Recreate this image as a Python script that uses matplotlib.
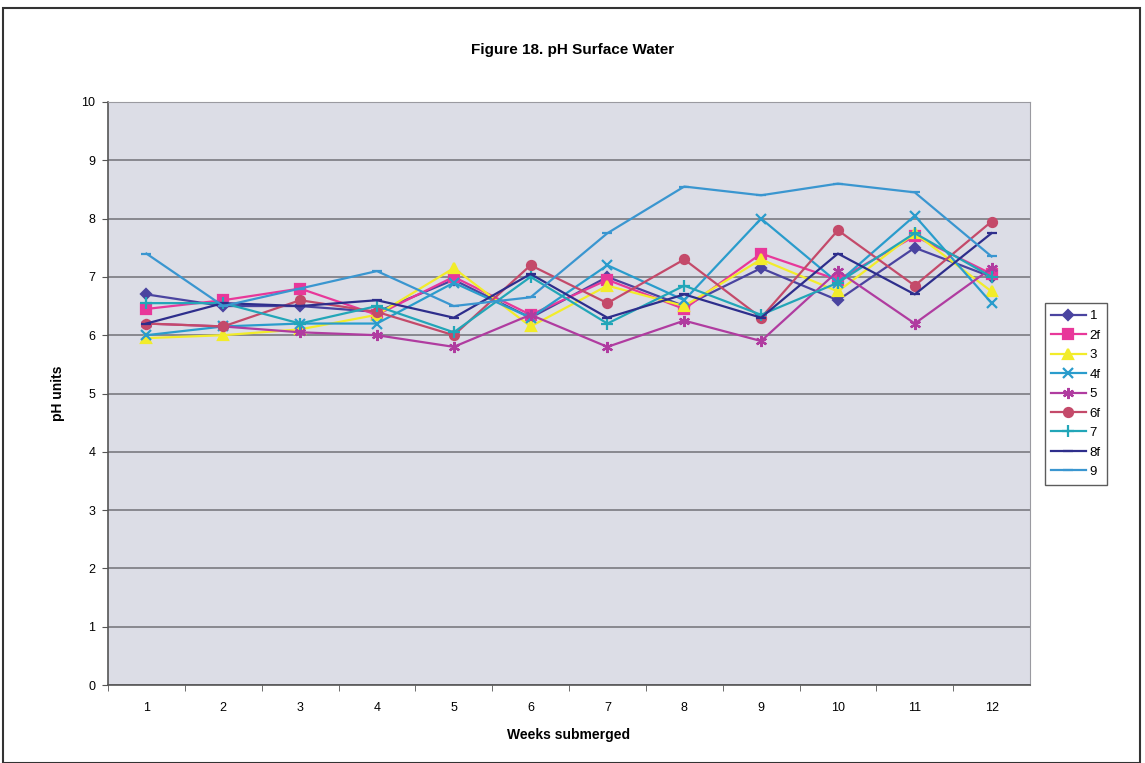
#!/usr/bin/env python3
"""Figure 18 - pH da água superficial por semana submersa."""

import matplotlib
matplotlib.use('Agg')
import matplotlib.pyplot as plt
from matplotlib.patches import Rectangle

# Dados
weeks = [1, 2, 3, 4, 5, 6, 7, 8, 9, 10, 11, 12]
series_names = ['1', '2f', '3', '4f', '5', '6f', '7', '8f', '9']

ph_1 = [6.7, 6.5, 6.5, 6.4, 6.95, 6.3, 7.0, 6.5, 7.15, 6.6, 7.5, 7.0]
ph_2f = [6.45, 6.6, 6.8, 6.35, 7.0, 6.35, 6.95, 6.45, 7.4, 6.95, 7.7, 7.05]
ph_3 = [5.95, 6.0, 6.1, 6.35, 7.15, 6.15, 6.85, 6.5, 7.3, 6.75, 7.75, 6.75]
ph_4f = [6.0, 6.15, 6.2, 6.2, 6.9, 6.3, 7.2, 6.6, 8.0, 6.9, 8.05, 6.55]
ph_5 = [6.2, 6.15, 6.05, 6.0, 5.8, 6.35, 5.8, 6.25, 5.9, 7.1, 6.2, 7.15]
ph_6f = [6.2, 6.15, 6.6, 6.4, 6.0, 7.2, 6.55, 7.3, 6.3, 7.8, 6.85, 7.95]
ph_7 = [6.55, 6.55, 6.2, 6.5, 6.05, 7.0, 6.2, 6.85, 6.35, 6.9, 7.75, 7.0]
ph_8f = [6.2, 6.55, 6.5, 6.6, 6.3, 7.05, 6.3, 6.7, 6.3, 7.4, 6.7, 7.75]
ph_9 = [7.4, 6.5, 6.8, 7.1, 6.5, 6.65, 7.75, 8.55, 8.4, 8.6, 8.45, 7.35]

all_series = [ph_1, ph_2f, ph_3, ph_4f, ph_5, ph_6f, ph_7, ph_8f, ph_9]

# Estilos (cores aproximadas do scan)
colors = ['#4a44a0', '#e8389a', '#f2ec2a', '#2a9ccc', '#b03ca0',
          '#c44a6a', '#22a6b8', '#2e2e8c', '#3a96d0']
markers = ['D', 's', '^', 'x', (6, 2, 0), 'o', '+', '_', '_']
msizes = [5.5, 6.5, 6.5, 7.5, 8, 6.5, 8, 7, 7]

plt.rcParams['font.family'] = ['Liberation Sans', 'DejaVu Sans']

fig = plt.figure(figsize=(11.45, 7.63), dpi=100)
fig.patch.set_facecolor('white')
ax = fig.add_axes([108 / 1145, 1 - 685 / 763, 922 / 1145, 583 / 763])
ax.set_facecolor('#dcdde6')

for name, vals, c, m, ms in zip(series_names, all_series, colors, markers, msizes):
    ax.plot(weeks, vals, color=c, linewidth=1.6, marker=m, markersize=ms,
            markeredgewidth=1.6, markerfacecolor=c, markeredgecolor=c,
            label=name)

ax.set_xlim(0.5, 12.5)
ax.set_ylim(0, 10)
ax.set_yticks(range(0, 11))
ax.set_xticks(weeks)
ax.set_xticks([w + 0.5 for w in range(0, 12)], minor=True)
ax.tick_params(axis='x', which='major', length=0, pad=12, labelsize=9)
ax.tick_params(axis='x', which='minor', length=4, direction='out', color='#555555')
ax.tick_params(axis='y', length=4, direction='out', color='#555555', labelsize=9, pad=5)

ax.grid(True, axis='y', color='#7a7a80', linewidth=1.2)
ax.set_axisbelow(True)
for side in ['top', 'right']:
    ax.spines[side].set_color('#9a9aa0')
    ax.spines[side].set_linewidth(0.8)
for side in ['left', 'bottom']:
    ax.spines[side].set_color('#555555')
    ax.spines[side].set_linewidth(1.2)

ax.set_ylabel('pH units', fontsize=10, fontweight='bold', labelpad=12)
ax.set_xlabel('Weeks submerged', fontsize=10, fontweight='bold', labelpad=10)
fig.text(0.5, 1 - 50 / 763, 'Figure 18. pH Surface Water', ha='center', va='center',
         fontsize=11, fontweight='bold')

leg = ax.legend(loc='center left', bbox_to_anchor=(1038 / 1145, 1 - 394 / 763),
                bbox_transform=fig.transFigure, fontsize=9.5, frameon=True,
                fancybox=False, edgecolor='#333333', handlelength=2.6,
                borderpad=0.5, labelspacing=0.55, handletextpad=0.3)
leg.get_frame().set_linewidth(1.0)

# Moldura em volta da figura
fig.patches.append(Rectangle((3 / 1145, 0.0), 1137 / 1145, 1 - 8 / 763,
                             transform=fig.transFigure, fill=False,
                             edgecolor='#333333', linewidth=1.5))

plt.savefig('out.png', dpi=100)
plt.close()
